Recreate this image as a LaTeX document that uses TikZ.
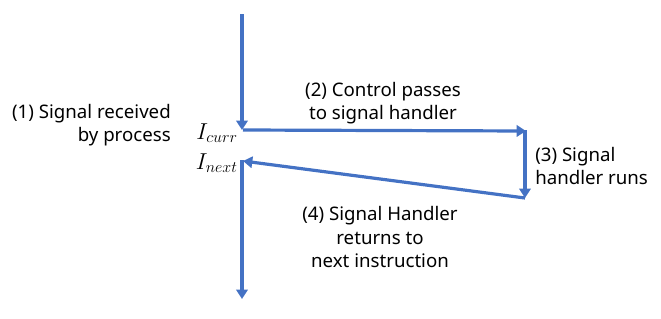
\documentclass[tikz,border=0pt]{standalone}
\usepackage{fontspec}
\setmainfont{Noto Sans}
\usetikzlibrary{arrows.meta}
\definecolor{lblue}{HTML}{4472C4}
\begin{document}
\begin{tikzpicture}[x=0.75pt,y=-0.75pt,
  conn/.style={draw=lblue,line width=2.4pt,-{Triangle[length=7pt,width=8.5pt]}},
  lbl/.style={font=\fontsize{14}{17.5}\selectfont,inner sep=0pt,align=center},
  mth/.style={font=\fontsize{18}{20}\selectfont,inner sep=0pt}]
\useasboundingbox (0,0) rectangle (661,318);
\coordinate (top) at (242,14);
\coordinate (cur) at (242,130);
\coordinate (curR) at (243,130);
\coordinate (hs) at (526,131);
\coordinate (hv) at (525,130);
\coordinate (he) at (525,198);
\coordinate (nx) at (243,161);
\coordinate (nxd) at (242,160);
\coordinate (bot) at (242,299);
\draw[conn] (top) -- (cur);
\draw[conn] (curR) -- (hs);
\draw[conn] (hv) -- (he);
\draw[conn] (he) -- (nx);
\draw[conn] (nxd) -- (bot);
\node[lbl,align=right,anchor=east] (l1) at (171,125) {(1) Signal received\\by process};
\node[mth,anchor=east] (ic) at (238,133) {$I_{curr}$};
\node[mth,anchor=east] (in) at (238,163) {$I_{next}$};
\node[lbl] (l2) at (383,103) {(2) Control passes\\to signal handler};
\node[lbl,align=left,anchor=west] (l3) at (535,166) {(3) Signal\\handler runs};
\node[lbl] (l4) at (380,237) {(4) Signal Handler\\returns to\\next instruction};
\end{tikzpicture}
\end{document}
